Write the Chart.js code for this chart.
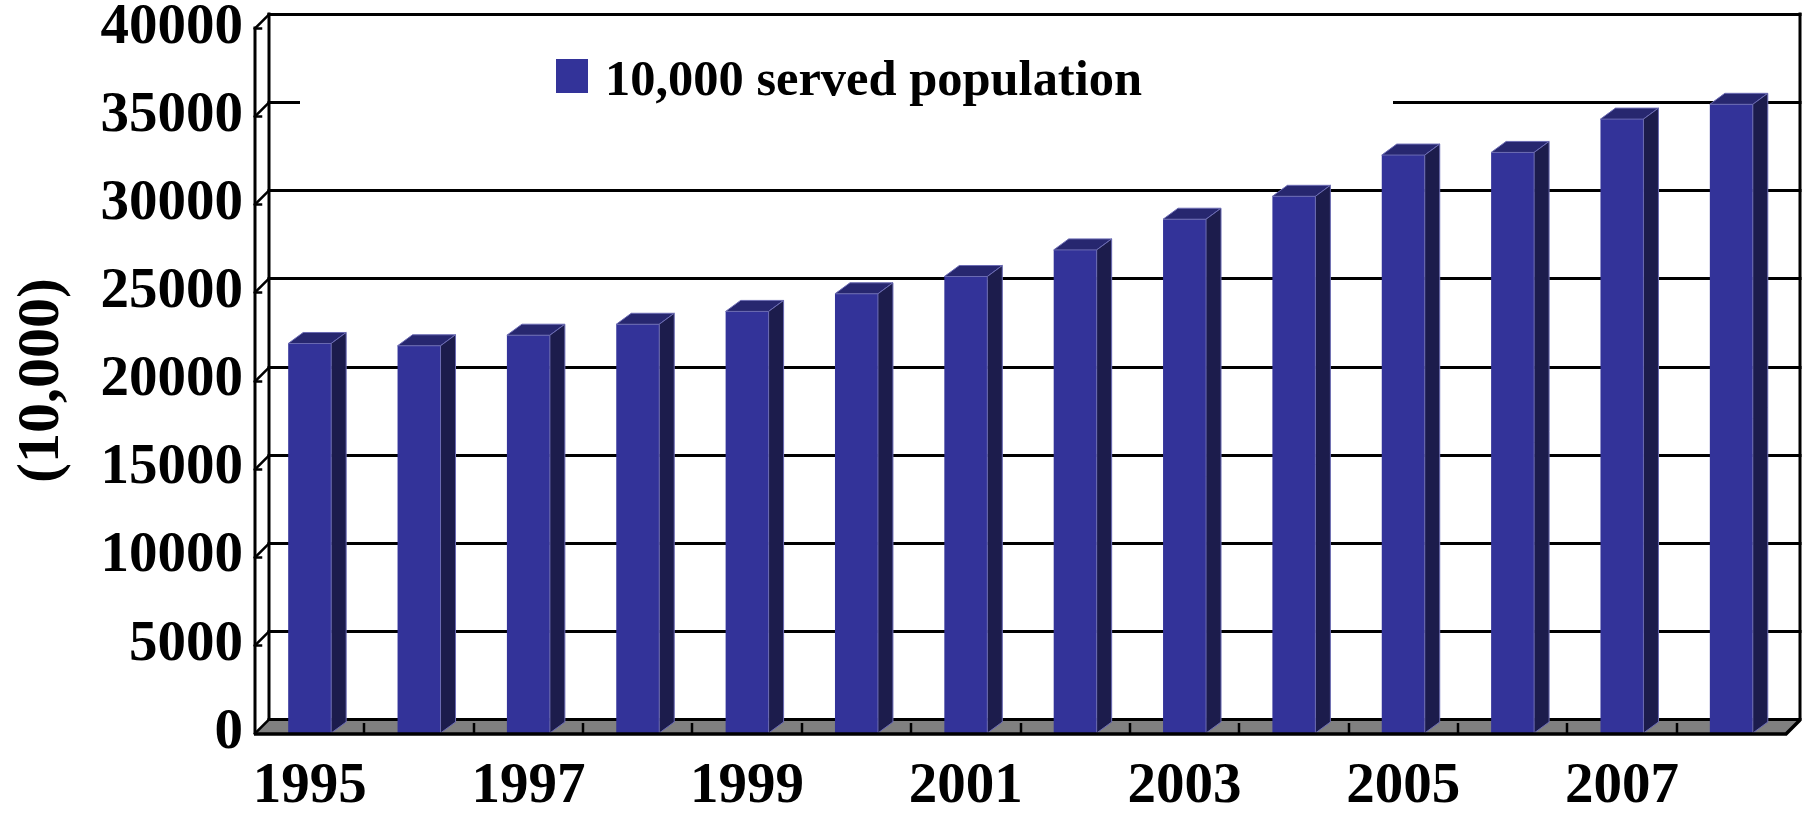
<!DOCTYPE html>
<html>
<head>
<meta charset="utf-8">
<script src="https://cdn.jsdelivr.net/npm/chart.js@4.4.1/dist/chart.umd.min.js"></script>
<style>
  html, body { margin: 0; padding: 0; background: #ffffff; }
  #wrap { width: 1804px; height: 814px; position: relative; }
</style>
</head>
<body>
<div id="wrap"><canvas id="c"></canvas></div>
<script>
// ---- data ----
const years = ['1995','1996','1997','1998','1999','2000','2001','2002','2003','2004','2005','2006','2007','2008'];
const servedPopulation = [22100, 21970, 22570, 23190, 23920, 24920, 25900, 27410, 29150, 30450, 32790, 32940, 34830, 35670];
const yTickValues = [0, 5000, 10000, 15000, 20000, 25000, 30000, 35000, 40000];
const seriesLabel = '10,000 served population';
const yAxisTitle = '(10,000)';

// ---- styling ----
const FONT = '"Liberation Serif", "Times New Roman", serif';
const FRONT = '#333399';
const TOP = '#27276f';
const SIDE = '#1c1c4c';
const WALL = { dx: 14, dy: -14 };
const BAR = { dx: 15, dy: -11 };

function line(ctx, x1, y1, x2, y2) {
  ctx.beginPath(); ctx.moveTo(x1, y1); ctx.lineTo(x2, y2); ctx.stroke();
}

const threeD = {
  id: 'threeD',
  beforeDatasetsDraw(chart) {
    const { ctx, chartArea: a, scales: { x, y } } = chart;
    ctx.save();
    // floor
    ctx.fillStyle = '#808080';
    ctx.beginPath();
    ctx.moveTo(a.left, a.bottom);
    ctx.lineTo(a.right, a.bottom);
    ctx.lineTo(a.right + WALL.dx, a.bottom + WALL.dy);
    ctx.lineTo(a.left + WALL.dx, a.bottom + WALL.dy);
    ctx.closePath();
    ctx.fill();

    ctx.strokeStyle = '#000';
    ctx.lineWidth = 3;
    ctx.lineCap = 'square';
    // back wall gridlines + side wall ticks
    yTickValues.forEach(v => {
      const yf = Math.round(y.getPixelForValue(v)) + 0.5;
      const yb = yf + WALL.dy;
      line(ctx, a.left + WALL.dx, yb, a.right + WALL.dx, yb);
      ctx.lineWidth = 2.5;
      line(ctx, a.left, yf, a.left + WALL.dx, yb);
      if (v > 0) line(ctx, a.left, yf, a.left + 6, yf);
      ctx.lineWidth = 3;
    });
    // verticals
    line(ctx, a.left, a.top, a.left, a.bottom);
    line(ctx, a.left + WALL.dx, a.top + WALL.dy, a.left + WALL.dx, a.bottom + WALL.dy);
    line(ctx, a.right + WALL.dx, a.top + WALL.dy, a.right + WALL.dx, a.bottom + WALL.dy);
    // floor category ticks
    ctx.lineWidth = 2.5;
    ctx.lineCap = 'butt';
    for (let i = 1; i < years.length; i++) {
      const xx = Math.round((x.getPixelForValue(i - 1) + x.getPixelForValue(i)) / 2);
      line(ctx, xx, a.bottom, xx, a.bottom - 10);
    }
    ctx.restore();
  },
  afterDatasetsDraw(chart) {
    const { ctx, chartArea: a } = chart;
    const meta = chart.getDatasetMeta(0);
    ctx.save();
    ctx.lineWidth = 1;
    ctx.strokeStyle = '#6b6bb3';
    meta.data.forEach(bar => {
      const p = bar.getProps(['x', 'y', 'base', 'width'], true);
      const l = p.x - p.width / 2, r = p.x + p.width / 2;
      // top face
      ctx.fillStyle = TOP;
      ctx.beginPath();
      ctx.moveTo(l, p.y); ctx.lineTo(r, p.y);
      ctx.lineTo(r + BAR.dx, p.y + BAR.dy); ctx.lineTo(l + BAR.dx, p.y + BAR.dy);
      ctx.closePath(); ctx.fill(); ctx.stroke();
      // side face
      ctx.fillStyle = SIDE;
      ctx.beginPath();
      ctx.moveTo(r, p.y); ctx.lineTo(r + BAR.dx, p.y + BAR.dy);
      ctx.lineTo(r + BAR.dx, p.base + BAR.dy); ctx.lineTo(r, p.base);
      ctx.closePath(); ctx.fill(); ctx.stroke();
    });
    // front floor edge
    ctx.strokeStyle = '#000';
    ctx.lineWidth = 3.5;
    ctx.beginPath();
    ctx.moveTo(a.left - 1, a.bottom + 1);
    ctx.lineTo(a.right, a.bottom + 1);
    ctx.lineTo(a.right + WALL.dx, a.bottom + 1 + WALL.dy);
    ctx.stroke();

    // legend (white box hiding the grid behind it)
    ctx.fillStyle = '#ffffff';
    ctx.fillRect(300, 45, 1093, 66);
    ctx.fillStyle = chart.data.datasets[0].backgroundColor;
    ctx.fillRect(556, 59, 32, 34);
    ctx.fillStyle = '#000';
    ctx.font = 'bold 50px ' + FONT;
    ctx.textBaseline = 'alphabetic';
    ctx.textAlign = 'left';
    const label = chart.data.datasets[0].label;
    const w = ctx.measureText(label).width;
    const sx = Math.min(1.15, Math.max(0.8, 537 / w));
    ctx.translate(605, 95);
    ctx.scale(sx, 1);
    ctx.fillText(label, 0, 0);
    ctx.restore();
  }
};

new Chart(document.getElementById('c'), {
  type: 'bar',
  data: {
    labels: years,
    datasets: [{
      label: seriesLabel,
      data: servedPopulation,
      backgroundColor: FRONT,
      borderWidth: 0,
      categoryPercentage: 1.0,
      barPercentage: 0.393
    }]
  },
  options: {
    responsive: true,
    maintainAspectRatio: false,
    animation: false,
    layout: { padding: { left: 0, top: 28, right: 18, bottom: 0 } },
    plugins: { legend: { display: false }, tooltip: { enabled: false } },
    scales: {
      x: {
        grid: { display: false, drawTicks: false },
        border: { display: false },
        ticks: {
          autoSkip: false,
          maxRotation: 0,
          minRotation: 0,
          padding: 20,
          color: '#000',
          font: { family: FONT, size: 57, weight: 'bold' },
          callback: function (val, idx) { return idx % 2 === 0 ? this.getLabelForValue(val) : ''; }
        },
        afterFit(scale) {
          scale.height = 81;
          scale.paddingLeft = 0; scale.paddingRight = 0;
        }
      },
      y: {
        min: 0, max: 40000,
        grid: { display: false, drawTicks: false },
        border: { display: false },
        afterBuildTicks(scale) { scale.ticks = yTickValues.map(v => ({ value: v })); },
        ticks: {
          padding: 12,
          color: '#000',
          font: { family: FONT, size: 57, weight: 'bold' },
          callback: v => String(v)
        },
        title: {
          display: true,
          text: yAxisTitle,
          color: '#000',
          font: { family: FONT, size: 60, weight: 'bold' },
          padding: { top: 6, bottom: 0 }
        },
        afterFit(scale) {
          scale.width = 255;
          scale.paddingTop = 0; scale.paddingBottom = 0;
        }
      }
    }
  },
  plugins: [threeD]
});
</script>
</body>
</html>
